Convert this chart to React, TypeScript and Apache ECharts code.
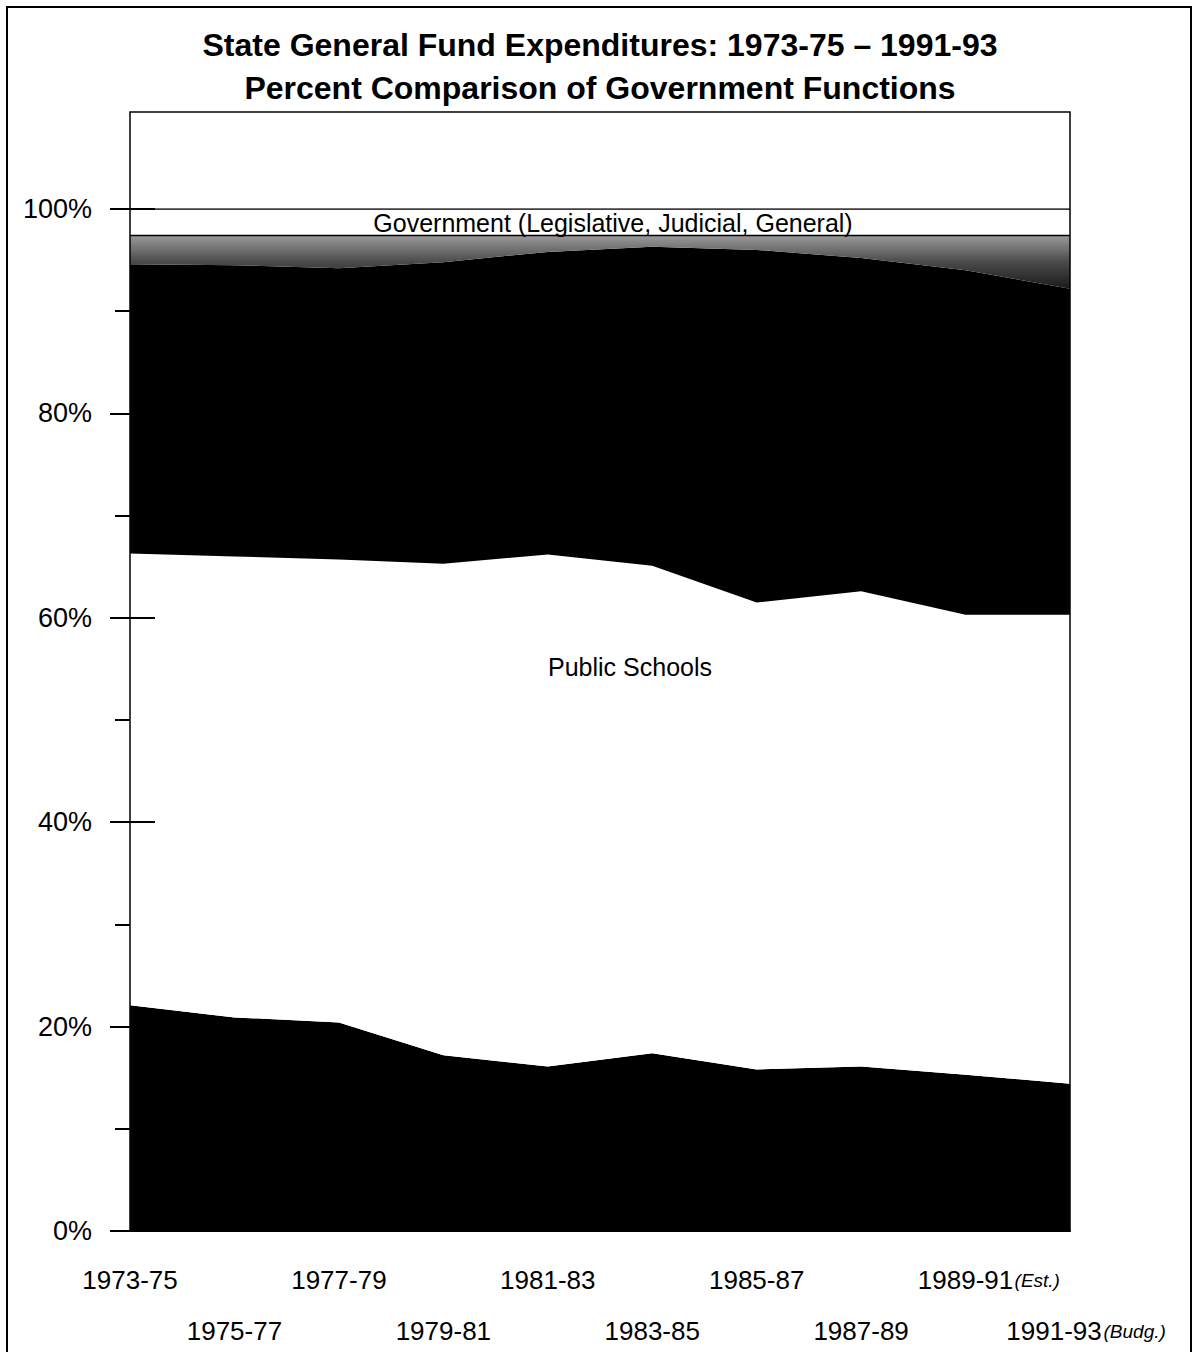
import React, { useEffect, useRef } from 'react';
import * as echarts from 'echarts';

// Biennium categories and label suffixes
const categories = ['1973-75', '1975-77', '1977-79', '1979-81', '1981-83', '1983-85', '1985-87', '1987-89', '1989-91', '1991-93'];
const labelSuffixes = ['', '', '', '', '', '', '', '', '(Est.)', '(Budg.)'];

// Percent shares per layer (bottom to top)
const lowerBlackShare = [22.1, 20.9, 20.4, 17.2, 16.1, 17.4, 15.8, 16.1, 15.3, 14.4];
const publicSchoolsShare = [44.2, 45.1, 45.3, 48.1, 50.1, 47.7, 45.7, 46.5, 45.0, 45.9];
const upperBlackShare = [28.3, 28.5, 28.5, 29.5, 29.6, 31.2, 34.5, 32.6, 33.7, 31.9];
const shadedShare = [2.8, 2.9, 3.2, 2.6, 1.6, 1.1, 1.4, 2.2, 3.4, 5.2];
const governmentShare = [2.6, 2.6, 2.6, 2.6, 2.6, 2.6, 2.6, 2.6, 2.6, 2.6];

// Axis scale
const yMin = 0;
const yMax = 100;
const yInterval = 20;

const FONT = '"Liberation Sans", Arial, Helvetica, sans-serif';

export default function App() {
  const ref = useRef<HTMLDivElement>(null);

  useEffect(() => {
    if (!ref.current) return;
    const chart = echarts.init(ref.current, null, { renderer: 'svg' });

    const labelFormatter = (value: string, index: number) => {
      const i = categories.indexOf(value);
      const suf = labelSuffixes[i >= 0 ? i : index];
      if (suf === '(Est.)') return `{sp| }{m|${value}}{e|${suf}}`;
      if (suf === '(Budg.)') return `{spb| }{m|${value}}{b|${suf}}`;
      return `{m|${value}}`;
    };
    const rich = {
      m: { fontSize: 26, fontFamily: FONT, color: '#000' },
      e: { fontSize: 19, fontStyle: 'italic', fontFamily: FONT, color: '#000', width: 48 },
      b: { fontSize: 19, fontStyle: 'italic', fontFamily: FONT, color: '#000', width: 66 },
      sp: { fontSize: 19, width: 48 },
      spb: { fontSize: 19, width: 34 },
    };

    const area = (name: string, data: number[], color: any, lineStyle: any = { width: 0, opacity: 0 }) => ({
      type: 'line',
      name,
      stack: 'total',
      data,
      symbol: 'none',
      showSymbol: false,
      silent: true,
      lineStyle,
      areaStyle: { color, opacity: 1 },
      emphasis: { disabled: true },
      xAxisIndex: 0,
      yAxisIndex: 0,
    });

    chart.setOption({
      animation: false,
      backgroundColor: '#fff',
      title: {
        text: 'State General Fund Expenditures: 1973-75 – 1991-93\nPercent Comparison of Government Functions',
        left: 'center',
        top: 23,
        padding: 0,
        textStyle: { fontSize: 32, fontWeight: 'bold', fontFamily: FONT, color: '#000', lineHeight: 43 },
      },
      grid: { left: 130, right: 130, top: 209, bottom: 121, containLabel: false },
      xAxis: [
        {
          type: 'category',
          data: categories,
          boundaryGap: false,
          position: 'bottom',
          axisLine: { show: true, lineStyle: { color: '#000', width: 2 } },
          axisTick: { show: false },
          splitLine: { show: false },
          axisLabel: {
            interval: (index: number) => index % 2 === 0,
            margin: 36,
            formatter: labelFormatter,
            rich,
          },
          z: 10,
        },
        {
          type: 'category',
          data: categories,
          boundaryGap: false,
          position: 'bottom',
          offset: 0,
          axisLine: { show: false },
          axisTick: { show: false },
          splitLine: { show: false },
          axisLabel: {
            interval: (index: number) => index % 2 === 1,
            margin: 87,
            formatter: labelFormatter,
            rich,
          },
          z: 10,
        },
      ],
      yAxis: [
        {
          type: 'value',
          min: yMin,
          max: yMax,
          interval: yInterval,
          axisLine: { show: false },
          axisTick: { show: true, length: 20, lineStyle: { color: '#000', width: 2 } },
          minorTick: { show: true, splitNumber: 2, length: 15, lineStyle: { color: '#000', width: 2 } },
          splitLine: { show: false },
          minorSplitLine: { show: false },
          axisLabel: {
            margin: 38,
            fontSize: 27,
            fontFamily: FONT,
            color: '#000',
            formatter: (v: number) => `${v}%`,
          },
          z: 10,
        },
        {
          type: 'value',
          min: yMin,
          max: yMax,
          interval: yInterval,
          position: 'left',
          offset: 0,
          axisLine: { show: false },
          axisTick: { show: true, inside: true, length: 25, lineStyle: { color: '#000', width: 2 } },
          axisLabel: { show: false },
          splitLine: { show: false },
          z: 10,
        },
      ],
      series: [
        area('Lower black band', lowerBlackShare, '#000'),
        area('Public Schools', publicSchoolsShare, '#fff'),
        area('Upper black band', upperBlackShare, '#000'),
        area(
          'Shaded band',
          shadedShare,
          new echarts.graphic.LinearGradient(0, 0, 0, 1, [
            { offset: 0, color: '#9a9a9a' },
            { offset: 0.5, color: '#4a4a4a' },
            { offset: 1, color: '#1a1a1a' },
          ]),
          { width: 1.5, color: '#000' }
        ),
        area('Government (Legislative, Judicial, General)', governmentShare, '#fff', { width: 1.5, color: '#000' }),
      ],
      graphic: [
        {
          type: 'rect',
          shape: { x: 7, y: 7, width: 1184, height: 1400 },
          style: { fill: 'none', stroke: '#000', lineWidth: 2 },
          silent: true,
          z: 100,
        },
        {
          type: 'rect',
          shape: { x: 130, y: 112, width: 940, height: 1119 },
          style: { fill: 'none', stroke: '#000', lineWidth: 1.5 },
          silent: true,
          z: 100,
        },
        {
          type: 'text',
          x: 630,
          y: 667,
          style: {
            text: 'Public Schools',
            fontSize: 25,
            fontFamily: FONT,
            fill: '#000',
            align: 'center',
            verticalAlign: 'middle',
          },
          silent: true,
          z: 100,
        },
        {
          type: 'text',
          x: 613,
          y: 223,
          style: {
            text: 'Government (Legislative, Judicial, General)',
            fontSize: 25,
            fontFamily: FONT,
            fill: '#000',
            align: 'center',
            verticalAlign: 'middle',
          },
          silent: true,
          z: 100,
        },
      ],
    });

    return () => {
      chart.dispose();
    };
  }, []);

  return (
    <div
      ref={ref}
      style={{ position: 'absolute', left: 0, top: 0, width: 1200, height: 1352, background: '#fff' }}
    />
  );
}
